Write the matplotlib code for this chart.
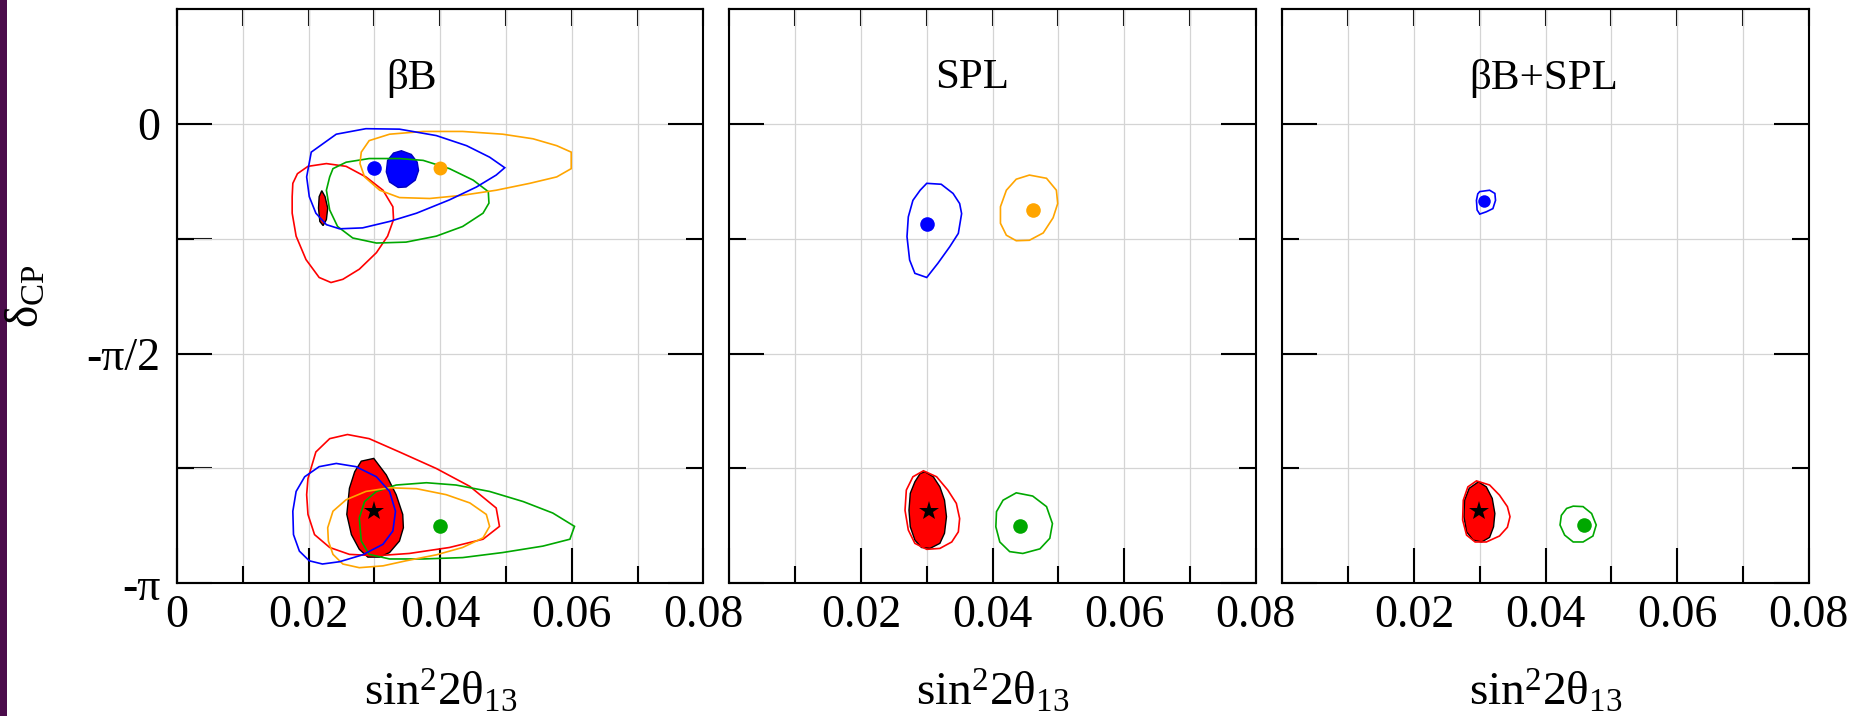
import numpy as np
import matplotlib
matplotlib.use("Agg")
import matplotlib.pyplot as plt
from matplotlib.patches import Polygon, Rectangle
from matplotlib.ticker import FixedLocator, FixedFormatter, NullFormatter

plt.rcParams['font.family'] = ['Liberation Serif', 'DejaVu Serif']
plt.rcParams['mathtext.fontset'] = 'custom'
plt.rcParams['mathtext.rm'] = 'Liberation Serif'
plt.rcParams['mathtext.it'] = 'Liberation Serif:italic'
plt.rcParams['mathtext.bf'] = 'Liberation Serif:bold'

PI = np.pi

# ---------------------------------------------------------------
# Allowed regions in the (sin^2 2theta13, delta_CP/pi) plane
# ---------------------------------------------------------------
PANEL_TITLES = ["βB", "SPL", "βB+SPL"]

X_TICKS = [0.0, 0.02, 0.04, 0.06, 0.08]
X_MINOR = [0.01, 0.03, 0.05, 0.07]
X_LABELS_FIRST = ["0", "0.02", "0.04", "0.06", "0.08"]
X_LABELS_OTHER = ["", "0.02", "0.04", "0.06", "0.08"]
Y_TICKS_PI = [0.0, -0.5, -1.0]
Y_MINOR_PI = [-0.25, -0.75]
Y_LABELS = ["0", "-π/2", "-π"]

# --- beta beam -----------------------------------------------------
BB_BLUE_TOP = [(0.0204, -0.061), (0.0242, -0.022), (0.0287, -0.010), (0.0338, -0.011),
               (0.0394, -0.025), (0.0440, -0.047), (0.0475, -0.072), (0.0498, -0.095),
               (0.0485, -0.111), (0.0455, -0.137), (0.0414, -0.165), (0.0364, -0.194),
               (0.0323, -0.212), (0.0282, -0.226), (0.0247, -0.228), (0.0227, -0.219),
               (0.0211, -0.194), (0.0201, -0.158), (0.0197, -0.115)]
BB_ORANGE_TOP = [(0.0280, -0.061), (0.0292, -0.036), (0.0323, -0.022), (0.0374, -0.016),
                 (0.0434, -0.016), (0.0495, -0.022), (0.0541, -0.032), (0.0577, -0.047),
                 (0.0599, -0.061), (0.0599, -0.097), (0.0577, -0.115), (0.0536, -0.129),
                 (0.0485, -0.144), (0.0434, -0.155), (0.0384, -0.162), (0.0338, -0.160),
                 (0.0308, -0.144), (0.0285, -0.115), (0.0278, -0.086)]
BB_GREEN_TOP = [(0.0237, -0.097), (0.0257, -0.083), (0.0292, -0.075), (0.0338, -0.075),
                (0.0374, -0.079), (0.0414, -0.097), (0.0450, -0.122), (0.0473, -0.147),
                (0.0474, -0.172), (0.0465, -0.194), (0.0434, -0.223), (0.0394, -0.244),
                (0.0348, -0.257), (0.0303, -0.259), (0.0267, -0.248), (0.0244, -0.223),
                (0.0232, -0.187), (0.0227, -0.144), (0.0232, -0.115)]
BB_RED_TOP = [(0.0176, -0.129), (0.0183, -0.108), (0.0199, -0.092), (0.0227, -0.086),
              (0.0257, -0.092), (0.0287, -0.115), (0.0313, -0.144), (0.0328, -0.180),
              (0.0329, -0.208), (0.0320, -0.244), (0.0303, -0.280), (0.0277, -0.316),
              (0.0252, -0.338), (0.0234, -0.345), (0.0216, -0.334), (0.0196, -0.295),
              (0.0181, -0.244), (0.0175, -0.194), (0.0175, -0.158)]
BB_RED_FILL_TOP = [(0.0220, -0.145), (0.0225, -0.158), (0.0229, -0.183), (0.0227, -0.208),
                   (0.0222, -0.221), (0.0217, -0.212), (0.0215, -0.183), (0.0216, -0.158)]
BB_BLUE_FILL_TOP = [(0.0341, -0.058), (0.0356, -0.066), (0.0365, -0.083), (0.0367, -0.101),
                    (0.0362, -0.122), (0.0348, -0.137), (0.0336, -0.138), (0.0323, -0.126),
                    (0.0318, -0.104), (0.0320, -0.079), (0.0329, -0.063)]

BB_RED_BOT = [(0.0199, -0.772), (0.0211, -0.714), (0.0232, -0.685), (0.0259, -0.676),
              (0.0292, -0.685), (0.0338, -0.714), (0.0394, -0.750), (0.0445, -0.789),
              (0.0485, -0.836), (0.0490, -0.876), (0.0465, -0.904), (0.0414, -0.922),
              (0.0353, -0.935), (0.0303, -0.940), (0.0262, -0.937), (0.0232, -0.922),
              (0.0209, -0.894), (0.0199, -0.850), (0.0197, -0.807)]
BB_BLUE_BOT = [(0.0176, -0.843), (0.0181, -0.800), (0.0194, -0.768), (0.0216, -0.746),
               (0.0242, -0.739), (0.0272, -0.746), (0.0303, -0.768), (0.0323, -0.800),
               (0.0332, -0.843), (0.0328, -0.886), (0.0313, -0.915), (0.0282, -0.938),
               (0.0247, -0.953), (0.0221, -0.958), (0.0201, -0.951), (0.0186, -0.930),
               (0.0177, -0.894)]
BB_ORANGE_BOT = [(0.0229, -0.879), (0.0237, -0.843), (0.0257, -0.818), (0.0287, -0.800),
                 (0.0323, -0.792), (0.0364, -0.794), (0.0409, -0.807), (0.0445, -0.825),
                 (0.0470, -0.850), (0.0475, -0.876), (0.0465, -0.901), (0.0434, -0.922),
                 (0.0394, -0.938), (0.0348, -0.951), (0.0313, -0.962), (0.0277, -0.966),
                 (0.0252, -0.958), (0.0237, -0.937), (0.0230, -0.908)]
BB_GREEN_BOT = [(0.0277, -0.858), (0.0285, -0.822), (0.0303, -0.800), (0.0333, -0.786),
                (0.0379, -0.781), (0.0424, -0.786), (0.0475, -0.800), (0.0526, -0.822),
                (0.0571, -0.847), (0.0604, -0.876), (0.0597, -0.904), (0.0556, -0.919),
                (0.0495, -0.933), (0.0434, -0.944), (0.0374, -0.947), (0.0323, -0.947),
                (0.0292, -0.937), (0.0280, -0.908)]
BB_RED_FILL_BOT = [(0.0280, -0.734), (0.0299, -0.728), (0.0318, -0.764), (0.0333, -0.807),
                   (0.0343, -0.850), (0.0344, -0.879), (0.0338, -0.908), (0.0323, -0.933),
                   (0.0308, -0.943), (0.0290, -0.943), (0.0277, -0.926), (0.0265, -0.894),
                   (0.0258, -0.850), (0.0262, -0.793), (0.0270, -0.757)]

BB_BLUE_PT = (0.0300, -0.095)
BB_ORANGE_PT = (0.0400, -0.095)
BB_GREEN_PT = (0.0400, -0.876)
BB_TRUE_PT = (0.0300, -0.843)

# --- superbeam -----------------------------------------------------
SPL_BLUE = [(0.0300, -0.129), (0.0322, -0.131), (0.0340, -0.151), (0.0350, -0.173),
            (0.0353, -0.195), (0.0348, -0.238), (0.0335, -0.267), (0.0317, -0.303),
            (0.0300, -0.334), (0.0282, -0.325), (0.0274, -0.296), (0.0270, -0.245),
            (0.0272, -0.202), (0.0279, -0.166), (0.0290, -0.144)]
SPL_ORANGE = [(0.0456, -0.111), (0.0482, -0.118), (0.0497, -0.144), (0.0499, -0.173),
              (0.0492, -0.204), (0.0477, -0.237), (0.0456, -0.253), (0.0436, -0.254),
              (0.0421, -0.242), (0.0412, -0.216), (0.0412, -0.180), (0.0421, -0.144),
              (0.0436, -0.120)]
SPL_RED = [(0.0295, -0.755), (0.0315, -0.768), (0.0332, -0.797), (0.0345, -0.826),
           (0.0350, -0.859), (0.0348, -0.888), (0.0338, -0.910), (0.0320, -0.924),
           (0.0300, -0.926), (0.0282, -0.913), (0.0272, -0.884), (0.0267, -0.841),
           (0.0269, -0.797), (0.0279, -0.768)]
SPL_RED_FILL = [(0.0297, -0.757), (0.0310, -0.768), (0.0320, -0.790), (0.0327, -0.819),
                (0.0330, -0.855), (0.0327, -0.891), (0.0320, -0.913), (0.0305, -0.924),
                (0.0292, -0.922), (0.0282, -0.906), (0.0275, -0.877), (0.0273, -0.841),
                (0.0275, -0.804), (0.0282, -0.779), (0.0290, -0.761)]
SPL_GREEN = [(0.0436, -0.803), (0.0461, -0.810), (0.0482, -0.833), (0.0491, -0.870),
             (0.0487, -0.902), (0.0472, -0.925), (0.0446, -0.935), (0.0426, -0.931),
             (0.0411, -0.910), (0.0405, -0.877), (0.0406, -0.844), (0.0416, -0.819)]

SPL_BLUE_PT = (0.0301, -0.218)
SPL_ORANGE_PT = (0.0461, -0.187)
SPL_GREEN_PT = (0.0441, -0.875)
SPL_TRUE_PT = (0.0304, -0.842)

# --- combination ---------------------------------------------------
BS_BLUE = [(0.0300, -0.147), (0.0315, -0.144), (0.0323, -0.151), (0.0324, -0.166),
           (0.0320, -0.184), (0.0310, -0.191), (0.0300, -0.196), (0.0296, -0.187),
           (0.0295, -0.166), (0.0297, -0.152)]
BS_RED = [(0.0295, -0.777), (0.0315, -0.786), (0.0330, -0.808), (0.0342, -0.833),
          (0.0346, -0.855), (0.0342, -0.878), (0.0330, -0.897), (0.0310, -0.910),
          (0.0293, -0.910), (0.0280, -0.895), (0.0274, -0.862), (0.0275, -0.819),
          (0.0282, -0.790)]
BS_RED_FILL = [(0.0298, -0.779), (0.0310, -0.790), (0.0319, -0.815), (0.0323, -0.848),
               (0.0321, -0.877), (0.0315, -0.900), (0.0303, -0.910), (0.0290, -0.906),
               (0.0280, -0.888), (0.0276, -0.855), (0.0277, -0.819), (0.0284, -0.793)]
BS_GREEN = [(0.0442, -0.832), (0.0457, -0.833), (0.0470, -0.848), (0.0477, -0.873),
            (0.0472, -0.897), (0.0457, -0.910), (0.0442, -0.910), (0.0429, -0.895),
            (0.0422, -0.873), (0.0424, -0.852), (0.0432, -0.837)]

BS_BLUE_PT = (0.0307, -0.167)
BS_GREEN_PT = (0.0458, -0.873)
BS_TRUE_PT = (0.0299, -0.842)

BLUE = "#0000ff"
ORANGE = "#ffa500"
GREEN = "#00a800"
RED = "#ff0000"

PANELS = [
    dict(fills=[(BB_RED_FILL_BOT, RED, "black"), (BB_RED_FILL_TOP, RED, "black"),
                (BB_BLUE_FILL_TOP, BLUE, "#0000c0")],
         lines=[(BB_RED_TOP, RED), (BB_GREEN_TOP, GREEN), (BB_ORANGE_TOP, ORANGE),
                (BB_BLUE_TOP, BLUE), (BB_RED_BOT, RED), (BB_GREEN_BOT, GREEN),
                (BB_ORANGE_BOT, ORANGE), (BB_BLUE_BOT, BLUE)],
         dots=[(BB_BLUE_PT, BLUE, 10.5), (BB_ORANGE_PT, ORANGE, 10.0), (BB_GREEN_PT, GREEN, 10.5)],
         star=BB_TRUE_PT),
    dict(fills=[(SPL_RED_FILL, RED, "black")],
         lines=[(SPL_RED, RED), (SPL_BLUE, BLUE), (SPL_ORANGE, ORANGE), (SPL_GREEN, GREEN)],
         dots=[(SPL_BLUE_PT, BLUE, 10.5), (SPL_ORANGE_PT, ORANGE, 10.5), (SPL_GREEN_PT, GREEN, 10.5)],
         star=SPL_TRUE_PT),
    dict(fills=[(BS_RED_FILL, RED, "black")],
         lines=[(BS_RED, RED), (BS_BLUE, BLUE), (BS_GREEN, GREEN)],
         dots=[(BS_BLUE_PT, BLUE, 9.0), (BS_GREEN_PT, GREEN, 10.5)],
         star=BS_TRUE_PT),
]

TITLE_X = [0.445, 0.461, 0.497]


def to_xy(pts):
    arr = np.asarray(pts, dtype=float)
    return np.column_stack([arr[:, 0], arr[:, 1] * PI])


fig = plt.figure(figsize=(18.65, 7.16), dpi=100)
fig.patch.set_facecolor("white")
fig.add_artist(Rectangle((0, 0), 7 / 1865, 1, transform=fig.transFigure,
                         facecolor="#4b0c4b", edgecolor="none"))

LEFTS = [177.0, 729.3, 1282.3]
W = 526.5
BOTTOM = (716 - 583.3) / 716
HEIGHT = 574.0 / 716

TICK_FS = 33
LW_FRAME = 1.5

for i, panel in enumerate(PANELS):
    ax = fig.add_axes([LEFTS[i] / 1865, BOTTOM, W / 1865, HEIGHT])
    ax.set_xlim(0, 0.08)
    ax.set_ylim(-PI, PI / 4)

    ax.xaxis.set_major_locator(FixedLocator(X_TICKS))
    ax.xaxis.set_minor_locator(FixedLocator(X_MINOR))
    ax.xaxis.set_major_formatter(FixedFormatter(X_LABELS_FIRST if i == 0 else X_LABELS_OTHER))
    ax.xaxis.set_minor_formatter(NullFormatter())
    ax.yaxis.set_major_locator(FixedLocator([v * PI for v in Y_TICKS_PI]))
    ax.yaxis.set_minor_locator(FixedLocator([v * PI for v in Y_MINOR_PI]))
    ax.yaxis.set_major_formatter(FixedFormatter(Y_LABELS if i == 0 else ["", "", ""]))
    ax.yaxis.set_minor_formatter(NullFormatter())

    ax.tick_params(which="major", direction="in", length=25, width=LW_FRAME,
                   top=False, right=True, labelsize=TICK_FS, colors="black")
    ax.tick_params(which="minor", direction="in", length=12, width=LW_FRAME,
                   top=False, right=True)
    ax.tick_params(axis="x", which="major", pad=8)
    ax.tick_params(axis="y", which="major", pad=12)
    for sp in ax.spines.values():
        sp.set_linewidth(LW_FRAME)

    ax.grid(which="both", color="#d4d4d4", linewidth=0.9)
    ax.set_axisbelow(True)

    # short ticks along the top edge at every grid column
    sec = ax.secondary_xaxis("top")
    sec.xaxis.set_major_locator(FixedLocator(X_TICKS + X_MINOR))
    sec.tick_params(direction="in", length=12, width=LW_FRAME, labeltop=False)
    sec.spines["top"].set_linewidth(LW_FRAME)
    if i == 0:
        secy = ax.secondary_yaxis("left")
        secy.yaxis.set_major_locator(FixedLocator([v * PI for v in Y_MINOR_PI]))
        secy.tick_params(direction="in", length=25, width=LW_FRAME, labelleft=False)
        secy.spines["left"].set_linewidth(LW_FRAME)

    for pts, face, edge in panel["fills"]:
        ax.add_patch(Polygon(to_xy(pts), closed=True, facecolor=face,
                             edgecolor=edge, linewidth=1.0, zorder=2))
    for pts, color in panel["lines"]:
        ax.add_patch(Polygon(to_xy(pts), closed=True, fill=False,
                             edgecolor=color, linewidth=1.2, zorder=3))
    for (px, py), color, ms in panel["dots"]:
        ax.plot([px], [py * PI], "o", color=color, markersize=ms,
                markeredgewidth=0, zorder=5)
    sx, sy = panel["star"]
    ax.plot([sx], [sy * PI], "*", color="black", markersize=15,
            markeredgewidth=0, zorder=6)

    ax.text(TITLE_X[i], 0.88, PANEL_TITLES[i], transform=ax.transAxes,
            ha="center", va="center", fontsize=31)
    ax.text(0.5, -0.212, r"$\mathrm{sin}^{2}\mathrm{2θ}_{13}$", transform=ax.transAxes,
            ha="center", va="baseline", fontsize=34)

fig.text(27 / 1865, 1 - 296 / 716, r"$\mathrm{δ}_{\mathrm{CP}}$", rotation=90,
         ha="center", va="center", fontsize=34)

fig.savefig("out.png", dpi=100, facecolor="white")
